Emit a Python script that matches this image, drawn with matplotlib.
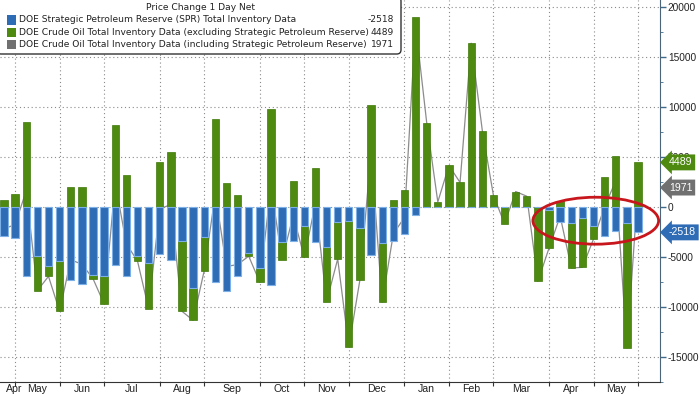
import numpy as np
import pandas as pd
import matplotlib
matplotlib.use('Agg')
import matplotlib.pyplot as plt
from matplotlib.patches import Ellipse, FancyBboxPatch, Rectangle

plt.rcParams['axes.unicode_minus'] = False

# weekly DOE inventory changes (thousand barrels), Apr 2022 - May 2023
weeks = pd.date_range('2022-04-22', periods=58, freq='W-FRI')

spr = [-2850, -3080, -6920, -4920, -5850, -5420, -7250, -7680, -6820, -6920,
       -5820, -6920, -4920, -5580, -4650, -5250, -3380, -8080, -2980, -7520,
       -8350, -6920, -4630, -6080, -7800, -3520, -3420, -1850, -3520, -4020,
       -1520, -1350, -2080, -4750, -3580, -3420, -2700, -750, 0, 0,
       0, 0, 0, 0, 0, 0, 0, 0, 0, -250,
       -1520, -1580, -1080, -1920, -2920, -2420, -1580, -2518]

crude_ex = [680, 1350, 8580, -3430, -1070, -5000, 1980, 1980, -330, -2760,
            8250, 3250, -460, -4570, 4480, 5520, -7040, -3240, -3370, 8850,
            2420, 1180, -270, -1440, 9870, -1730, 2580, -3170, 3920, -5430,
            -3660, -12630, -5170, 10250, -5940, 750, 1680, 19020, 8480, 530,
            4180, 2480, 16420, 7680, 1180, -1650, 1570, 1100, -7420, -3830,
            630, -4500, -4940, -1260, 2980, 5080, -12500, 4489]

crude_incl = [-2170, -1730, 1660, -8350, -6920, -10420, -5270, -5700, -7150, -9680,
              2430, -3670, -5380, -10150, -170, 270, -10420, -11320, -6350, 1330,
              -5930, -5740, -4900, -7520, 2070, -5250, -840, -5020, 400, -9450,
              -5180, -13980, -7250, 5500, -9520, -2670, -1020, 18270, 8480, 530,
              4180, 2480, 16420, 7680, 1180, -1650, 1570, 1100, -7420, -4080,
              -890, -6080, -6020, -3180, 60, 2660, -14080, 1971]

legend_names = ['DOE Strategic Petroleum Reserve (SPR) Total Inventory Data',
                'DOE Crude Oil Total Inventory Data (excluding Strategic Petroleum Reserve)',
                'DOE Crude Oil Total Inventory Data (including Strategic Petroleum Reserve)']
legend_values = ['-2518', '4489', '1971']

blue = '#2e6cb5'
green = '#4e8a10'
grey = '#707070'
tick_font = 'Liberation Sans'

x = np.arange(len(weeks))
spr_a = np.array(spr)
ex_a = np.array(crude_ex)
green_bottom = np.where((ex_a < 0) & (spr_a < 0), spr_a, 0)

fig = plt.figure(figsize=(7, 3.94), dpi=100)
ax = fig.add_axes([0, 12 / 394, 659.5 / 700, 382 / 394])

ax.plot(x, crude_incl, color='#8c8c8c', lw=0.9, zorder=1)
ax.bar(x, ex_a, bottom=green_bottom, width=0.66, color=green,
       edgecolor='#40780a', linewidth=0.5, zorder=2)
ax.bar(x, spr_a, width=0.66, color=blue, edgecolor='#7db0e6',
       linewidth=0.8, zorder=3)

ax.set_xlim(-0.36, 58.93)
ax.set_ylim(-17450, 20750)

# month boundaries at the last week of each month
bounds = [i for i in range(len(weeks))
          if i == len(weeks) - 1 or weeks[i + 1].month != weeks[i].month]
for b in bounds:
    ax.axvline(b, color='#8a8a8a', lw=0.8, ls=(0, (1, 2.5)), zorder=0)
lab_pos = [bounds[0] - 0.1] + [(bounds[k] + bounds[k + 1]) / 2 for k in range(len(bounds) - 1)]
lab_txt = [weeks[0].strftime('%b')] + [weeks[bounds[k + 1]].strftime('%b') for k in range(len(bounds) - 1)]
ax.set_xticks(bounds)
ax.set_xticklabels([])
ax.set_xticks(lab_pos, minor=True)
ax.set_xticklabels(lab_txt, minor=True, fontfamily=tick_font)
ax.tick_params(axis='x', which='major', length=3, color='#333333')
ax.tick_params(axis='x', which='minor', length=0, labelsize=7.6, pad=1.5,
               labelcolor='#222222')

yt = np.arange(-15000, 20001, 5000)
ax.set_yticks(yt)
ax.set_yticklabels([f'{v}' for v in yt], fontfamily=tick_font)
ax.set_yticks(np.arange(-17500, 20001, 2500), minor=True)
ax.yaxis.tick_right()
ax.tick_params(axis='y', which='major', length=4, width=1, color='#3e6a8c',
               labelsize=7.3, labelcolor='#222222', pad=2)
ax.tick_params(axis='y', which='minor', length=2, color='#3e6a8c')
for v in yt:
    ax.axhline(v, color='#8a8a8a', lw=0.8, ls=(0, (1, 2.5)), zorder=0)

for s in ['left', 'top']:
    ax.spines[s].set_visible(False)
ax.spines['right'].set_color('#4a6478')
ax.spines['bottom'].set_color('#333333')

# last value tags on the right axis
tags = [(crude_ex[-1], legend_values[1], green),
        (crude_incl[-1], legend_values[2], grey),
        (spr[-1], legend_values[0], blue)]
for val, txt, c in tags:
    ax.text(1.014, val, txt, transform=ax.get_yaxis_transform(), ha='left',
            va='center', color='white', fontsize=7.6, fontfamily=tick_font,
            clip_on=False, zorder=10,
            bbox=dict(boxstyle='larrow,pad=0.28', fc=c, ec='none'))

ax.add_patch(Ellipse((53.2, -1350), 11.3, 4700, fill=False, ec='#c8161d',
                     lw=2, zorder=5))

# legend box
W, H = 700, 394
box = FancyBboxPatch((-3 / W, 1 - 54 / H), 404 / W, 57 / H,
                     boxstyle='round,pad=0,rounding_size=0.006',
                     mutation_aspect=W / H, transform=fig.transFigure,
                     fc='white', ec='#333333', lw=1, zorder=20)
fig.patches.append(box)
fig.text(200 / W, 1 - 7.5 / H, 'Price Change 1 Day Net', ha='center',
         va='center', fontsize=6.55, color='#222222', zorder=21)
colors = [blue, green, grey]
rows = [20, 32.3, 44.3]
for name, val, c, r in zip(legend_names, legend_values, colors, rows):
    fig.patches.append(Rectangle((7 / W, 1 - (r + 4.5) / H), 9 / W, 9 / H,
                                 transform=fig.transFigure, fc=c, ec='none',
                                 zorder=21))
    fig.text(19 / W, 1 - r / H, name, ha='left', va='center', fontsize=6.55,
             color='#222222', zorder=21)
    fig.text(394 / W, 1 - r / H, val, ha='right', va='center', fontsize=6.55,
             color='#222222', zorder=21)

fig.savefig('out.png', dpi=100)
